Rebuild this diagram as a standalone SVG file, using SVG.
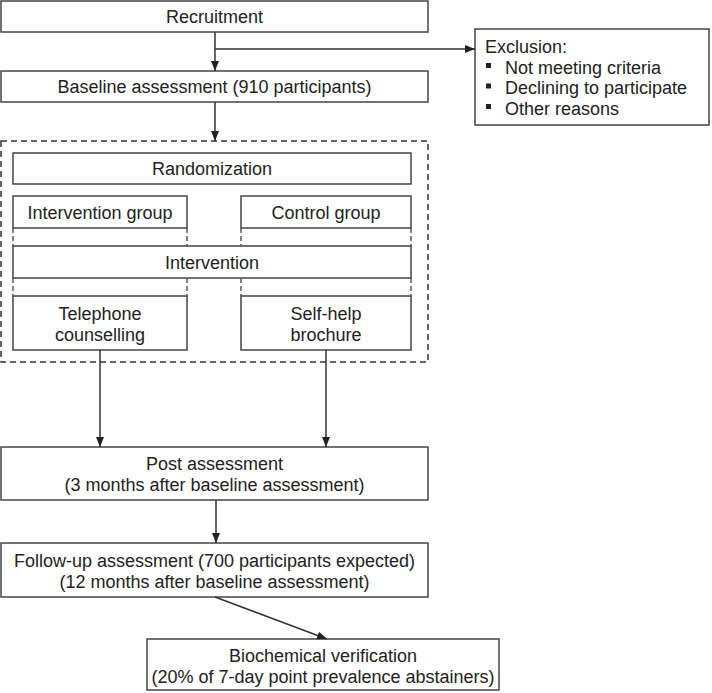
<svg xmlns="http://www.w3.org/2000/svg" width="712" height="693" viewBox="0 0 712 693">
<style>
.box{fill:#fff;stroke:#444;stroke-width:1.5}
.t{font-family:"Liberation Sans",Arial,sans-serif;font-size:18px;fill:#222;text-anchor:middle}
.l{font-family:"Liberation Sans",Arial,sans-serif;font-size:18px;fill:#222}
.c{fill:none;stroke:#333;stroke-width:1.5}
.dd{fill:none;stroke:#444;stroke-width:1.3;stroke-dasharray:5 3}
</style>
<defs>
<marker id="ah" markerUnits="userSpaceOnUse" markerWidth="10" markerHeight="8" refX="10" refY="4" orient="auto">
<path d="M0,0 L10,4 L0,8 z" fill="#222"/>
</marker>
</defs>
<rect x="0" y="0" width="712" height="693" fill="#fff"/>

<g id="randomization-frame">
<rect x="1" y="141" width="427" height="221" fill="none" stroke="#333" stroke-width="1.5" stroke-dasharray="6 4"/>
</g>

<g id="recruitment"><rect class="box" x="1" y="1" width="427" height="31"/><text class="t" x="214.5" y="23">Recruitment</text></g>
<g id="baseline"><rect class="box" x="1" y="71" width="427" height="31"/><text class="t" x="214.5" y="93">Baseline assessment (910 participants)</text></g>
<g id="exclusion"><rect class="box" x="475" y="29" width="234" height="96"/>
<text class="l" x="485" y="53">Exclusion:</text>
<rect x="486" y="63" width="5" height="5" fill="#222"/><text class="l" x="505" y="73.5">Not meeting criteria</text>
<rect x="486" y="83.5" width="5" height="5" fill="#222"/><text class="l" x="505" y="94">Declining to participate</text>
<rect x="486" y="104" width="5" height="5" fill="#222"/><text class="l" x="505" y="114.5">Other reasons</text>
</g>
<g id="randomization"><rect class="box" x="13" y="153" width="398" height="31"/><text class="t" x="212" y="175">Randomization</text></g>
<g id="intervention-group"><rect class="box" x="13" y="196" width="174" height="32"/><text class="t" x="100" y="218.5">Intervention group</text></g>
<g id="control-group"><rect class="box" x="241" y="196" width="170" height="32"/><text class="t" x="326" y="218.5">Control group</text></g>
<g id="intervention"><rect class="box" x="13" y="246" width="398" height="32"/><text class="t" x="212" y="268.5">Intervention</text></g>
<g id="telephone"><rect class="box" x="13" y="296" width="174" height="54"/><text class="t" x="100" y="319.5">Telephone</text><text class="t" x="100" y="340.5">counselling</text></g>
<g id="selfhelp"><rect class="box" x="241" y="296" width="170" height="54"/><text class="t" x="326" y="319.5">Self-help</text><text class="t" x="326" y="340.5">brochure</text></g>
<g id="post"><rect class="box" x="1" y="447" width="427" height="53"/><text class="t" x="214.5" y="470">Post assessment</text><text class="t" x="214.5" y="491">(3 months after baseline assessment)</text></g>
<g id="followup"><rect class="box" x="1" y="543" width="427" height="54"/><text class="t" x="214.5" y="566.5">Follow-up assessment (700 participants expected)</text><text class="t" x="214.5" y="587.5">(12 months after baseline assessment)</text></g>
<g id="biochemical"><rect class="box" x="147" y="639" width="352" height="51"/><text class="t" x="323" y="661.5">Biochemical verification</text><text class="t" x="323" y="682.5">(20% of 7-day point prevalence abstainers)</text></g>

<g id="connectors">
<line class="c" x1="215" y1="32" x2="215" y2="71" marker-end="url(#ah)"/>
<line class="c" x1="215" y1="49" x2="475" y2="49" marker-end="url(#ah)"/>
<line class="c" x1="215" y1="102" x2="215" y2="141" marker-end="url(#ah)"/>
<line class="c" x1="100" y1="350" x2="100" y2="447" marker-end="url(#ah)"/>
<line class="c" x1="326" y1="350" x2="326" y2="447" marker-end="url(#ah)"/>
<line class="c" x1="216" y1="500" x2="216" y2="543" marker-end="url(#ah)"/>
<line class="c" x1="215" y1="597" x2="327" y2="639" marker-end="url(#ah)"/>
<line class="dd" x1="13" y1="228" x2="13" y2="246"/>
<line class="dd" x1="187" y1="228" x2="187" y2="246"/>
<line class="dd" x1="241" y1="228" x2="241" y2="246"/>
<line class="dd" x1="411" y1="228" x2="411" y2="246"/>
<line class="dd" x1="13" y1="278" x2="13" y2="296"/>
<line class="dd" x1="187" y1="278" x2="187" y2="296"/>
<line class="dd" x1="241" y1="278" x2="241" y2="296"/>
<line class="dd" x1="411" y1="278" x2="411" y2="296"/>
</g>
</svg>
